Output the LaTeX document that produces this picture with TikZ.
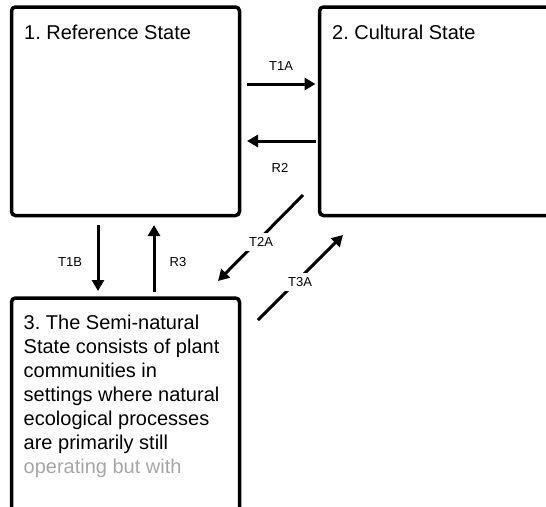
\documentclass[tikz,border=0pt]{standalone}
\usepackage{fontspec}
\setmainfont{Liberation Sans}
\usetikzlibrary{arrows.meta}
\frenchspacing
\begin{document}
\begin{tikzpicture}[x=1pt,y=-1pt,
  statebox/.style={draw, line width=3.5pt, rounded corners=4pt, anchor=north west, inner sep=0pt, outer sep=0pt},
  arr/.style={line width=3pt, -{Triangle[length=11pt,width=12pt]}},
  lbl/.style={font=\fontsize{13}{15}\selectfont, inner sep=3pt},
  lblw/.style={lbl, fill=white, inner sep=4pt},
  title/.style={font=\fontsize{20}{24}\selectfont, anchor=base west, inner sep=0pt, align=left}]
\useasboundingbox (0,0) rectangle (546,506);
\clip (0,0) rectangle (546,506);
% state boxes
\node[statebox, minimum width=228pt, minimum height=208.5pt] (s1) at (11.5,7) {};
\node[statebox, minimum width=240pt, minimum height=208.5pt] (s2) at (319.5,7) {};
\node[statebox, minimum width=228pt, minimum height=240pt] (s3) at (11.5,298) {};
% titles
\node[title] (t1) at (24,39) {1. Reference State};
\node[title] (t2) at (332,39) {2. Cultural State};
\node[title] (t3) at (23.5,473) {3. The Semi-natural\\State consists of plant\\communities in\\settings where natural\\ecological processes\\are primarily still\\\textcolor{black!35}{operating but with}};
% connectors
\draw[arr] ([shift={(7.5,-27.25)}]s1.east) -- ([shift={(-4,-27.25)}]s2.west);
\draw[arr] ([shift={(-4,29.75)}]s2.west) -- ([shift={(7.5,29.75)}]s1.east);
\draw[arr] ([shift={(-27.5,9.5)}]s1.south) -- ([shift={(-27.5,-7)}]s3.north);
\draw[arr] ([shift={(28.5,-6.3)}]s3.north) -- ([shift={(28.5,9.5)}]s1.south);
\draw[arr] ([shift={(-16.5,-20.5)}]s2.south west) -- ([shift={(-21.5,-17)}]s3.north east);
\draw[arr] ([shift={(18.5,22)}]s3.north east) -- ([shift={(23.5,19.5)}]s2.south west);
% labels
\node[lbl] (lT1A) at (281,66) {T1A};
\node[lbl] (lR2) at (280,168) {R2};
\node[lbl] (lT1B) at (70,262) {T1B};
\node[lbl] (lR3) at (178,262) {R3};
\node[lblw] (lT2A) at (261,242) {T2A};
\node[lblw] (lT3A) at (300,282) {T3A};
\end{tikzpicture}
\end{document}
